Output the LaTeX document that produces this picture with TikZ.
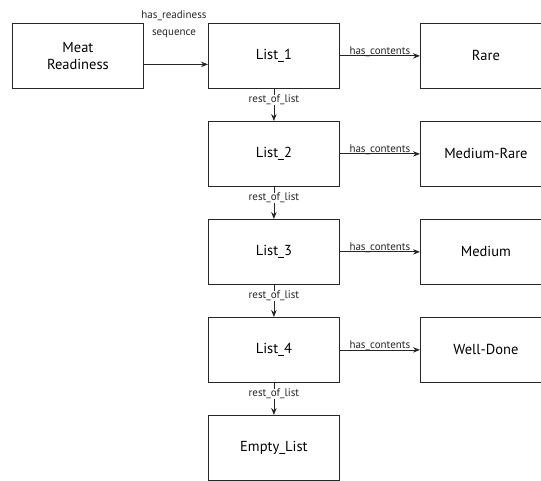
\documentclass[tikz,border=0pt]{standalone}
\usepackage{fontspec}
\setmainfont{PT Sans}
\usetikzlibrary{arrows.meta}
\begin{document}
\begin{tikzpicture}[x=1pt,y=-1pt,
  box/.style={draw=black!85,line width=0.8pt,minimum width=131pt,minimum height=65pt,
    inner sep=0pt,align=center,font=\fontsize{14.5}{17.5}\selectfont,anchor=north west},
  link/.style={draw=black!85,line width=0.8pt,-{Stealth[length=7pt,width=5.5pt]}},
  lbl/.style={font=\fontsize{11}{17}\selectfont,inner sep=1pt,text=black!85}]
\useasboundingbox (0,0) rectangle (541,481);
% left column and chain of list cells
\node[box] (meat) at (12,23) {Meat\\Readiness};
\node[box] (l1) at (208,23) {List\_1};
\node[box] (l2) at (208,121) {List\_2};
\node[box] (l3) at (208,219) {List\_3};
\node[box] (l4) at (208,317) {List\_4};
\node[box] (empty) at (208,415) {Empty\_List};
% contents of each cell
\node[box] (rare) at (420,23) {Rare};
\node[box] (mrare) at (420,121) {Medium-Rare};
\node[box] (medium) at (420,219) {Medium};
\node[box] (well) at (420,317) {Well-Done};
% sequence link
\draw[link] ([yshift=-8.5pt]meat.east) -- ([yshift=-8.5pt]l1.west);
\node[lbl,align=center] (seq) at (174,24) {has\_readiness\\sequence};
% contents links
\foreach \a/\b in {l1/rare,l2/mrare,l3/medium,l4/well}{
  \draw[link] (\a.east) -- (\b.west)
    node[lbl,pos=0.5,above=-2pt] {has\_contents};
}
% rest_of_list links
\foreach \a/\b in {l1/l2,l2/l3,l3/l4,l4/empty}{
  \draw[link] (\a.south) -- (\b.north)
    node[lbl,pos=0.35,fill=white,inner ysep=0pt,font=\fontsize{11}{12}\selectfont] {rest\_of\_list};
}
\end{tikzpicture}
\end{document}
